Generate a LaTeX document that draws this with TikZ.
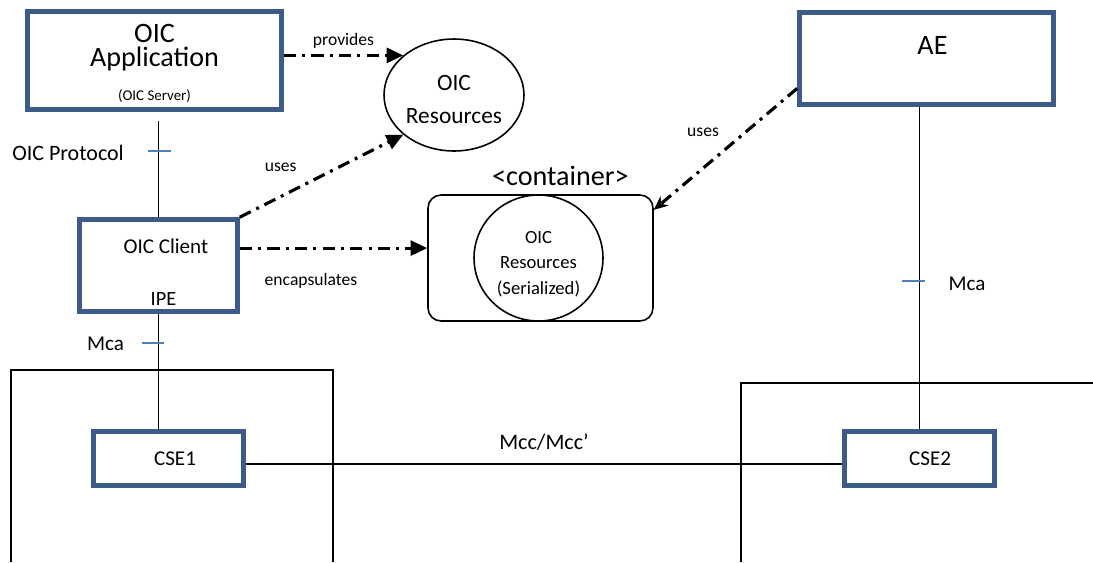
\documentclass[tikz,border=0pt]{standalone}
\usepackage{fontspec}
\setmainfont{Carlito}
\usetikzlibrary{arrows.meta, shapes.geometric, positioning}
\definecolor{oicblue}{HTML}{3C5B89}
\definecolor{tickblue}{HTML}{4F81BD}

\begin{document}
\begin{tikzpicture}[x=0.02cm, y=-0.02cm, line width=0.9pt, inner sep=0pt,
    every node/.style={font=\fontsize{12}{14}\selectfont},
    oicbox/.style={draw=oicblue, line width=2.6pt, rectangle},
    resource/.style={draw, ellipse},
    flowarrow/.style={line width=1.8pt, dash pattern=on 7pt off 3.5pt on 1.7pt off 3.5pt,
      -{Triangle[length=9.5pt, width=8.5pt]}},
    linklabel/.style={font=\fontsize{10}{12}\selectfont, inner sep=3.3pt},
    tickmark/.style={draw=tickblue, line width=0.9pt}]
      \useasboundingbox (0,0) rectangle (1093,562);

      % OIC side
      \node[oicbox, minimum width=5.08cm, minimum height=1.96cm,
        label={[align=center, font=\fontsize{16}{14}\selectfont, below=8pt]north:OIC\\Application},
        label={[font=\fontsize{8.5}{10}\selectfont, above=5pt]south:(OIC Server)}] (app) at (154.5,60.5) {};
      \node[resource, minimum width=2.8cm, minimum height=2.24cm,
        label={[align=center, yshift=-2.8pt, font=\fontsize{13.3}{18.7}\selectfont]center:OIC\\Resources}] (res) at (454,95) {};
      \node[oicbox, minimum width=3.16cm, minimum height=1.84cm,
        label={[below=12pt, xshift=4.2pt]north:OIC Client},
        label={[above=4pt, xshift=2.8pt, font=\fontsize{11.5}{13}\selectfont]south:IPE}] (client) at (158.5,265.5) {};
      \node[draw, rectangle, rounded corners=0.26cm, minimum width=4.5cm, minimum height=2.52cm,
        label={[above=4.5pt, xshift=11.3pt, font=\fontsize{16}{18}\selectfont]north:<container>}] (cont) at (540.5,258) {};
      \node[resource, minimum width=2.58cm, minimum height=2.52cm,
        label={[align=center, yshift=-3.4pt, font=\fontsize{10.6}{14.5}\selectfont]center:OIC\\Resources\\(Serialized)}] (ser) at (538.5,258) {};

      % oneM2M side
      \node[oicbox, minimum width=5.08cm, minimum height=1.84cm,
        label={[below=14.7pt, xshift=3.4pt, font=\fontsize{16}{18}\selectfont]north:AE}] (ae) at (926.5,58.5) {};
      \node[oicbox, minimum width=3.0cm, minimum height=1.08cm, label={[xshift=3.7pt]center:CSE1}] (cse1) at (168.5,458.5) {};
      \node[oicbox, minimum width=3.0cm, minimum height=1.08cm, label={[xshift=6pt]center:CSE2}] (cse2) at (919.5,458.5) {};

      \draw (11,562) |- (333,370) -- (333,562);
      \draw (741,562) |- (1093,383);

      % reference points
      \coordinate (prot) at (158.5,121);
      \draw (prot) -- (client.north);
      \draw (client.south) -- (client.south |- cse1.north);
      \draw (ae.south -| cse2.north) -- (cse2.north);
      \draw (cse1.-4) -- (cse1.-4 -| cse2.west) node[midway, above=7.5pt, font=\fontsize{12.6}{14}\selectfont] (mcc) {Mcc/Mcc’};

      \draw[tickmark] (148,151) -- (171,151);
      \draw[tickmark] (142,343) -- (164,343);
      \draw[tickmark] (902,281) -- (925,281);
      \node[font=\fontsize{12.5}{14}\selectfont] (proto) at (68,153) {OIC Protocol};
      \node (mca1) at (105.5,344) {Mca};
      \node (mca2) at (967,284) {Mca};

      \path[flowarrow] (res.142 -| app.east) edge node[linklabel, above] {provides} (res.142);
      \path[flowarrow] (client.north east) edge node[linklabel, pos=0.25, above=10pt] {uses} (res.218);
      \path[flowarrow] (cont.175 -| client.east) edge node[linklabel, pos=0.38, below=10pt] {encapsulates} (cont.175);
      \path[flowarrow, -{Stealth[length=8pt, width=7pt]}] (ae.193) edge node[linklabel, pos=0.36, left=11pt] {uses} (cont.23);
    \end{tikzpicture}
\end{document}
